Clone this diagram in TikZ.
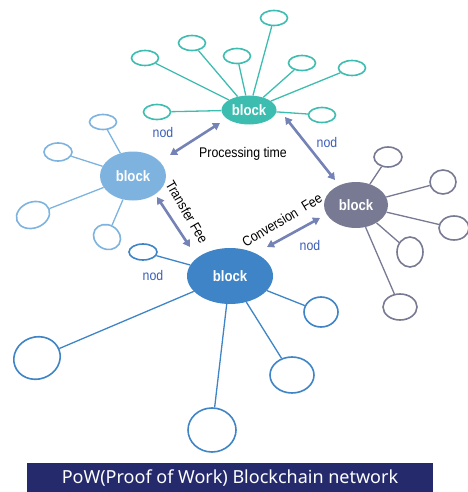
\documentclass[tikz,border=0pt]{standalone}
\usepackage{fontspec}
\setmainfont{Liberation Sans}
\newfontfamily\narrowfont[FakeStretch=0.88]{Liberation Sans}
\newfontfamily\bannerfont{Noto Sans}
\usetikzlibrary{shapes.geometric,arrows.meta}
\definecolor{tealc}{HTML}{3CBDB0}
\definecolor{lightc}{HTML}{7DB3DE}
\definecolor{greyc}{HTML}{777A92}
\definecolor{mainc}{HTML}{3E84C6}
\definecolor{arrowc}{HTML}{7482B6}
\definecolor{nodc}{HTML}{3A5DB8}
\definecolor{navy}{HTML}{242A6C}
\tikzset{
  hub/.style={ellipse, inner sep=0pt, text=white, font=\narrowfont\bfseries\fontsize{15}{15}\selectfont},
  sat/.style={ellipse, draw, fill=white, line width=1.6pt, inner sep=0pt},
  spoke/.style={line width=1.3pt},
  link/.style={draw=arrowc, line width=2.6pt, {Triangle[width=8pt,length=7pt]}-{Triangle[width=8pt,length=7pt]}},
  nodlbl/.style={text=nodc, font=\narrowfont\fontsize{14}{14}\selectfont, inner sep=1pt},
  feelbl/.style={text=black, font=\narrowfont\fontsize{14}{14}\selectfont, inner sep=0pt},
}
\begin{document}
\begin{tikzpicture}[x=1pt,y=-1pt]
\useasboundingbox (0,0) rectangle (467,492);

% top hub (teal) and its peers
\node[hub, fill=tealc, minimum width=55pt, minimum height=29pt] (top) at (249,110) {block};
\begin{scope}[every node/.style={sat, draw=tealc, minimum width=27pt, minimum height=15pt}]
  \node (t1) at (157,112) {};
  \node (t2) at (145,58) {};
  \node (t3) at (192,43) {};
  \node (t4) at (237,56) {};
  \node (t5) at (274,18) {};
  \node (t6) at (302,63) {};
  \node (t7) at (352,68) {};
  \node (t8) at (322,115) {};
\end{scope}
\foreach \s in {t1,t2,t3,t4,t5,t6,t7,t8} \draw[spoke, tealc] (top) -- (\s);

% left hub (light blue)
\node[hub, fill=lightc, minimum width=66pt, minimum height=49pt] (left) at (133,176) {block};
\begin{scope}[every node/.style={sat, draw=lightc}]
  \node[minimum width=27pt, minimum height=15pt] (l1) at (103,122) {};
  \node[minimum width=28pt, minimum height=18pt] (l2) at (58,152) {};
  \node[minimum width=34pt, minimum height=26pt, rotate=20] (l3) at (33,215) {};
  \node[minimum width=28pt, minimum height=24pt, rotate=-30] (l4) at (107,237) {};
\end{scope}
\foreach \s in {l1,l2,l3,l4} \draw[spoke, lightc] (left) -- (\s);

% right hub (grey)
\node[hub, fill=greyc, minimum width=64pt, minimum height=46pt] (right) at (356,205) {block};
\begin{scope}[every node/.style={sat, draw=greyc}]
  \node[minimum width=28pt, minimum height=20pt] (r1) at (388,157) {};
  \node[minimum width=26pt, minimum height=24pt] (r2) at (443,182) {};
  \node[minimum width=30pt, minimum height=24pt] (r3) at (454,228) {};
  \node[minimum width=26pt, minimum height=30pt] (r4) at (410,252) {};
  \node[minimum width=34pt, minimum height=26pt] (r5) at (400,307) {};
\end{scope}
\foreach \s in {r1,r2,r3,r4,r5} \draw[spoke, greyc] (right) -- (\s);

% main hub (blue)
\node[hub, fill=mainc, minimum width=86pt, minimum height=56pt] (main) at (230,276) {block};
\begin{scope}[every node/.style={sat, draw=mainc}]
  \node[minimum width=28pt, minimum height=16pt] (m1) at (143,252) {};
  \node[minimum width=47pt, minimum height=42pt, rotate=20] (m2) at (37,358) {};
  \node[minimum width=48pt, minimum height=44pt] (m3) at (212,430) {};
  \node[minimum width=44pt, minimum height=36pt] (m4) at (292,375) {};
  \node[minimum width=34pt, minimum height=30pt] (m5) at (321,312) {};
\end{scope}
\foreach \s in {m1,m2,m3,m4,m5} \draw[spoke, mainc] (main) -- (\s);

% links between hubs
\coordinate (a1) at (170,155); \coordinate (a2) at (220,123);
\coordinate (b1) at (285,117); \coordinate (b2) at (335,180);
\coordinate (c1) at (157,197); \coordinate (c2) at (190,247);
\coordinate (d1) at (320,218); \coordinate (d2) at (267,247);
\draw[link] (a1) -- (a2);
\draw[link] (b1) -- (b2);
\draw[link] (c1) -- (c2);
\draw[link] (d1) -- (d2);

% link labels
\node[feelbl] (ptime) at (243,154) {Processing time};
\node[feelbl, rotate=-60] (tfee) at (187,212) {Transfer Fee};
\node[feelbl, rotate=31] (cfee) at (282,220) {Conversion\ \ Fee};
\node[nodlbl] (n1) at (163,132) {nod};
\node[nodlbl] (n2) at (327,142) {nod};
\node[nodlbl] (n3) at (310,245) {nod};
\node[nodlbl] (n4) at (153,275) {nod};

% caption banner
\fill[navy] (27,463) rectangle (433,492);
\node[text=white, font=\bannerfont\fontsize{18}{18}\selectfont] (cap) at (230,478) {PoW(Proof of Work) Blockchain network};
\end{tikzpicture}
\end{document}
